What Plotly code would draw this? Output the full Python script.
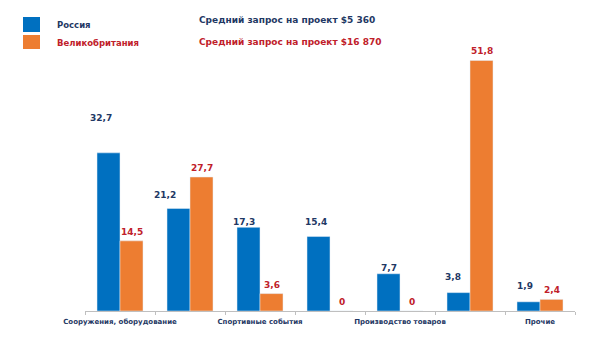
import plotly.graph_objects as go

# Data
positions = [0, 1, 2, 3, 4, 5, 6]
russia = [32.7, 21.2, 17.3, 15.4, 7.7, 3.8, 1.9]
uk = [14.5, 27.7, 3.6, 0, 0, 51.8, 2.4]
russia_labels = ["32,7", "21,2", "17,3", "15,4", "7,7", "3,8", "1,9"]
uk_labels = ["14,5", "27,7", "3,6", "0", "0", "51,8", "2,4"]
tick_positions = [0, 2, 4, 6]
tick_labels = ["Сооружения, оборудование", "Спортивные события", "Производство товаров", "Прочие"]
series_names = ["Россия", "Великобритания"]
avg_texts = ["Средний запрос на проект $5 360", "Средний запрос на проект $16 870"]

BLUE = "#0070C0"
ORANGE = "#ED7D31"
NAVY = "#1F3864"
RED = "#C0202A"
FONT = "DejaVu Sans"

fig = go.Figure()
fig.add_trace(go.Bar(x=positions, y=russia, marker_color=BLUE, name=series_names[0]))
fig.add_trace(go.Bar(x=positions, y=uk, marker_color=ORANGE, name=series_names[1]))

# value labels
bar_off = 0.1643  # half of a bar in x units (23px / 70px)
blue_dy = [35, 13, 5, 15, 6, 16, 16]
blue_dx = [-8, -14, -5, -3, 0, -6, -4]
for i, (v, t) in enumerate(zip(russia, russia_labels)):
    fig.add_annotation(x=positions[i] - bar_off, y=v, text="<b>%s</b>" % t, showarrow=False,
                       xref="x", yref="y", yanchor="middle", yshift=blue_dy[i], xshift=blue_dx[i],
                       font=dict(family=FONT, size=9, color=NAVY))
for i, (v, t) in enumerate(zip(uk, uk_labels)):
    fig.add_annotation(x=positions[i] + bar_off, y=v, text="<b>%s</b>" % t, showarrow=False,
                       xref="x", yref="y", yanchor="middle", yshift=9,
                       font=dict(family=FONT, size=9, color=RED))

W, H = 591, 337
ml, mr, mt, mb = 85, 16, 45, 26
pw, ph = W - ml - mr, H - mt - mb

def px(x):
    return (x - ml) / pw

def py(y):
    return (H - mb - y) / ph

# legend (manual)
for (y0, y1, c) in [(17, 32, BLUE), (35, 49, ORANGE)]:
    fig.add_shape(type="rect", xref="paper", yref="paper", x0=px(23), x1=px(40),
                  y0=py(y1), y1=py(y0), fillcolor=c, line=dict(width=0))
for (y, txt, c) in [(25, series_names[0], NAVY), (43, series_names[1], RED)]:
    fig.add_annotation(xref="paper", yref="paper", x=px(55), y=py(y), text="<b>%s</b>" % txt,
                       showarrow=False, xanchor="left", yanchor="middle",
                       font=dict(family=FONT, size=8.5, color=c))
for (y, txt, c) in [(20, avg_texts[0], NAVY), (42, avg_texts[1], RED)]:
    fig.add_annotation(xref="paper", yref="paper", x=px(197), y=py(y), text="<b>%s</b>" % txt,
                       showarrow=False, xanchor="left", yanchor="middle",
                       font=dict(family=FONT, size=9, color=c))

fig.update_layout(
    width=W, height=H,
    margin=dict(l=ml, r=mr, t=mt, b=mb),
    paper_bgcolor="white", plot_bgcolor="white",
    barmode="group", bargap=0.343, bargroupgap=0,
    showlegend=False,
    xaxis=dict(range=[-0.5, 6.5], tickvals=tick_positions,
               ticktext=["<b>%s</b>" % t for t in tick_labels],
               tickfont=dict(family=FONT, size=7, color=NAVY),
               ticklabelstandoff=4,
               showline=True, linecolor="#BFBFBF", linewidth=1, ticks="",
               showgrid=False, zeroline=False,
               minor=dict(tick0=0.5, dtick=1, ticks="outside", ticklen=3, tickcolor="#BFBFBF")),
    yaxis=dict(range=[0, 55], visible=False, showgrid=False, zeroline=False),
)

fig.write_html("out.html")
